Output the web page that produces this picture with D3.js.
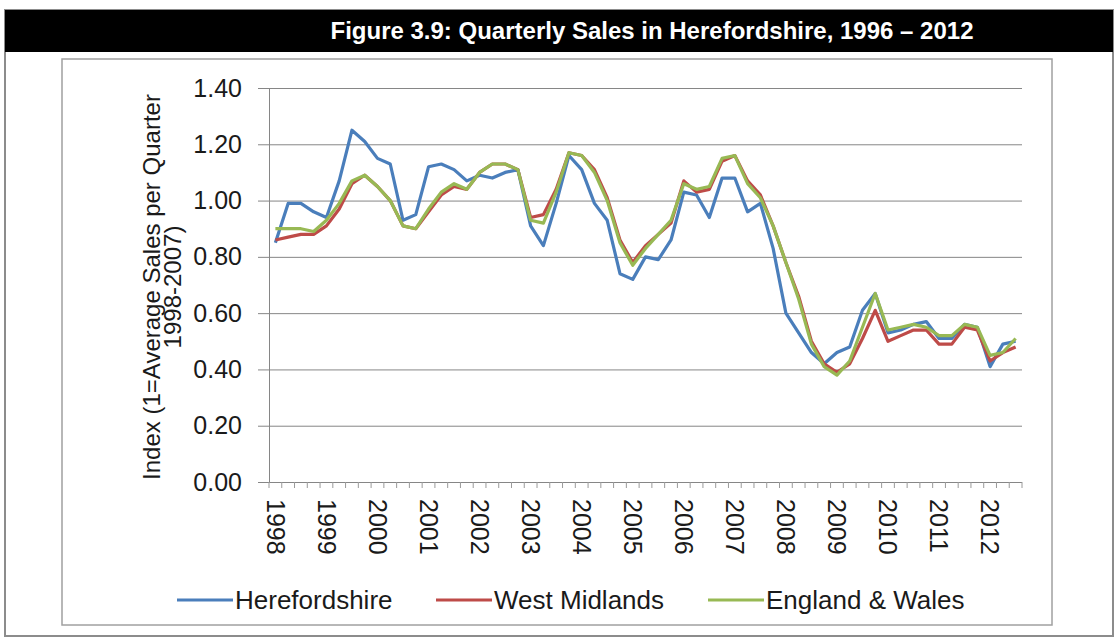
<!DOCTYPE html>
<html>
<head>
<meta charset="utf-8">
<script src="https://cdn.jsdelivr.net/npm/d3@7"></script>
<style>
  body { margin: 0; background: #fff; }
  svg { display: block; font-family: "Liberation Sans", Arial, sans-serif; }
</style>
</head>
<body>
<div id="chart"></div>
<script>
const years = ['1998','1999','2000','2001','2002','2003','2004','2005','2006','2007','2008','2009','2010','2011','2012']
const quarters = years.flatMap(y => ['Q1','Q2','Q3','Q4'].map(q => y + ' ' + q)).slice(0, 59)

const herefordshire = [
	0.85, 0.99, 0.99, 0.96, 0.94, 1.07, 1.25, 1.21, 1.15, 1.13, 0.93, 0.95,
	1.12, 1.13, 1.11, 1.07, 1.09, 1.08, 1.10, 1.11, 0.91, 0.84, 0.99, 1.16,
	1.11, 0.99, 0.93, 0.74, 0.72, 0.80, 0.79, 0.86, 1.03, 1.02, 0.94, 1.08,
	1.08, 0.96, 0.99, 0.83, 0.60, 0.53, 0.46, 0.42, 0.46, 0.48, 0.61, 0.67,
	0.53, 0.54, 0.56, 0.57, 0.51, 0.51, 0.56, 0.55, 0.41, 0.49, 0.50
]
const westMidlands = [
	0.86, 0.87, 0.88, 0.88, 0.91, 0.97, 1.06, 1.09, 1.05, 1.00, 0.91, 0.90,
	0.96, 1.02, 1.05, 1.04, 1.10, 1.13, 1.13, 1.11, 0.94, 0.95, 1.04, 1.17,
	1.16, 1.11, 1.01, 0.86, 0.78, 0.84, 0.88, 0.92, 1.07, 1.03, 1.04, 1.14,
	1.16, 1.07, 1.02, 0.91, 0.78, 0.66, 0.50, 0.42, 0.39, 0.42, 0.51, 0.61,
	0.50, 0.52, 0.54, 0.54, 0.49, 0.49, 0.55, 0.54, 0.43, 0.46, 0.48
]
const englandWales = [
	0.90, 0.90, 0.90, 0.89, 0.93, 0.99, 1.07, 1.09, 1.05, 1.00, 0.91, 0.90,
	0.97, 1.03, 1.06, 1.04, 1.10, 1.13, 1.13, 1.11, 0.93, 0.92, 1.03, 1.17,
	1.16, 1.10, 1.00, 0.85, 0.77, 0.83, 0.88, 0.93, 1.06, 1.04, 1.05, 1.15,
	1.16, 1.06, 1.01, 0.91, 0.78, 0.65, 0.49, 0.41, 0.38, 0.43, 0.55, 0.67,
	0.54, 0.55, 0.56, 0.55, 0.52, 0.52, 0.56, 0.55, 0.45, 0.46, 0.51
]
const seriesNames = ['Herefordshire', 'West Midlands', 'England & Wales']
const seriesColours = ['#4a7ebb', '#be4b48', '#98b954']
const yTicks = [0, 0.2, 0.4, 0.6, 0.8, 1.0, 1.2, 1.4]

const width = 1119, height = 639
const plot = { left: 269, right: 1022, top: 88, bottom: 482 }

const svg = d3.select('#chart').append('svg')
	.attr('width', width)
	.attr('height', height)

// outer frame + black title bar
svg.append('rect')
	.attr('x', 5).attr('y', 10)
	.attr('width', 1108).attr('height', 626)
	.attr('fill', '#fff').attr('stroke', '#8c8c8c').attr('stroke-width', 2)
svg.append('rect')
	.attr('x', 5).attr('y', 10)
	.attr('width', 1108).attr('height', 42)
	.attr('fill', '#000')
svg.append('text')
	.attr('x', 652).attr('y', 39)
	.attr('text-anchor', 'middle')
	.attr('fill', '#fff')
	.attr('font-weight', 'bold')
	.attr('font-size', 24)
	.text('Figure 3.9: Quarterly Sales in Herefordshire, 1996 – 2012')

// chart area box
svg.append('rect')
	.attr('x', 62).attr('y', 59)
	.attr('width', 990).attr('height', 566)
	.attr('fill', '#fff').attr('stroke', '#a0a0a0').attr('stroke-width', 1.5)

const x = d3.scaleBand()
	.domain(quarters)
	.range([plot.left, plot.right])
const y = d3.scaleLinear()
	.domain([0, 1.4])
	.range([plot.bottom, plot.top])

// y axis with gridlines
const yAxis = svg.append('g')
	.attr('transform', `translate(${plot.left},0)`)
	.call(d3.axisLeft(y)
		.tickValues(yTicks)
		.tickFormat(d3.format('.2f'))
		.tickSize(-(plot.right - plot.left))
		.tickPadding(27))
yAxis.select('.domain').attr('stroke', '#868686')
yAxis.selectAll('.tick line')
	.attr('x1', -11)
	.attr('stroke', '#868686')
yAxis.selectAll('.tick text')
	.attr('font-size', 25)
	.attr('fill', '#1a1a1a')

// x axis: tick marks between quarters, year labels on Q1
svg.append('g')
	.selectAll('line')
	.data(quarters.concat(['end']))
	.enter()
		.append('line')
			.attr('x1', (d, i) => plot.left + i * x.bandwidth())
			.attr('x2', (d, i) => plot.left + i * x.bandwidth())
			.attr('y1', plot.bottom)
			.attr('y2', plot.bottom + 6)
			.attr('stroke', '#9a9a9a')

const xAxis = svg.append('g')
	.attr('transform', `translate(0,${plot.bottom})`)
	.call(d3.axisBottom(x)
		.tickValues(quarters.filter(q => q.endsWith('Q1')))
		.tickFormat(q => q.slice(0, 4))
		.tickSize(0)
		.tickPadding(0))
xAxis.select('.domain').remove()
xAxis.selectAll('.tick text')
	.attr('font-size', 25)
	.attr('fill', '#1a1a1a')
	.attr('text-anchor', 'start')
	.attr('transform', 'translate(0,17) rotate(90)')
	.attr('y', 0)
	.attr('dy', '0.35em')

// y axis title
const yTitle = svg.append('text')
	.attr('transform', 'translate(160,287) rotate(-90)')
	.attr('text-anchor', 'middle')
	.attr('font-size', 24)
	.attr('fill', '#1a1a1a')
yTitle.append('tspan').attr('x', 0).attr('y', 0).text('Index (1=Average Sales per Quarter')
yTitle.append('tspan').attr('x', 0).attr('y', 21).text('1998-2007)')

// lines
const line = d3.line()
	.x((d, i) => x(quarters[i]) + x.bandwidth() / 2)
	.y(d => y(d))

svg.append('g')
	.selectAll('path')
	.data([herefordshire, westMidlands, englandWales])
	.enter()
		.append('path')
			.attr('d', line)
			.attr('fill', 'none')
			.attr('stroke', (d, i) => seriesColours[i])
			.attr('stroke-width', 3.2)
			.attr('stroke-linejoin', 'round')

// legend
const legendX = [177, 436, 708]
const legend = svg.append('g')
	.selectAll('g')
	.data(seriesNames)
	.enter()
		.append('g')
			.attr('transform', (d, i) => `translate(${legendX[i]},600)`)
legend.append('line')
	.attr('x1', 0).attr('x2', 56)
	.attr('stroke', (d, i) => seriesColours[i])
	.attr('stroke-width', 3)
legend.append('text')
	.attr('x', 58)
	.attr('dy', '0.35em')
	.attr('font-size', 26)
	.attr('fill', '#1a1a1a')
	.text(d => d)
</script>
</body>
</html>
